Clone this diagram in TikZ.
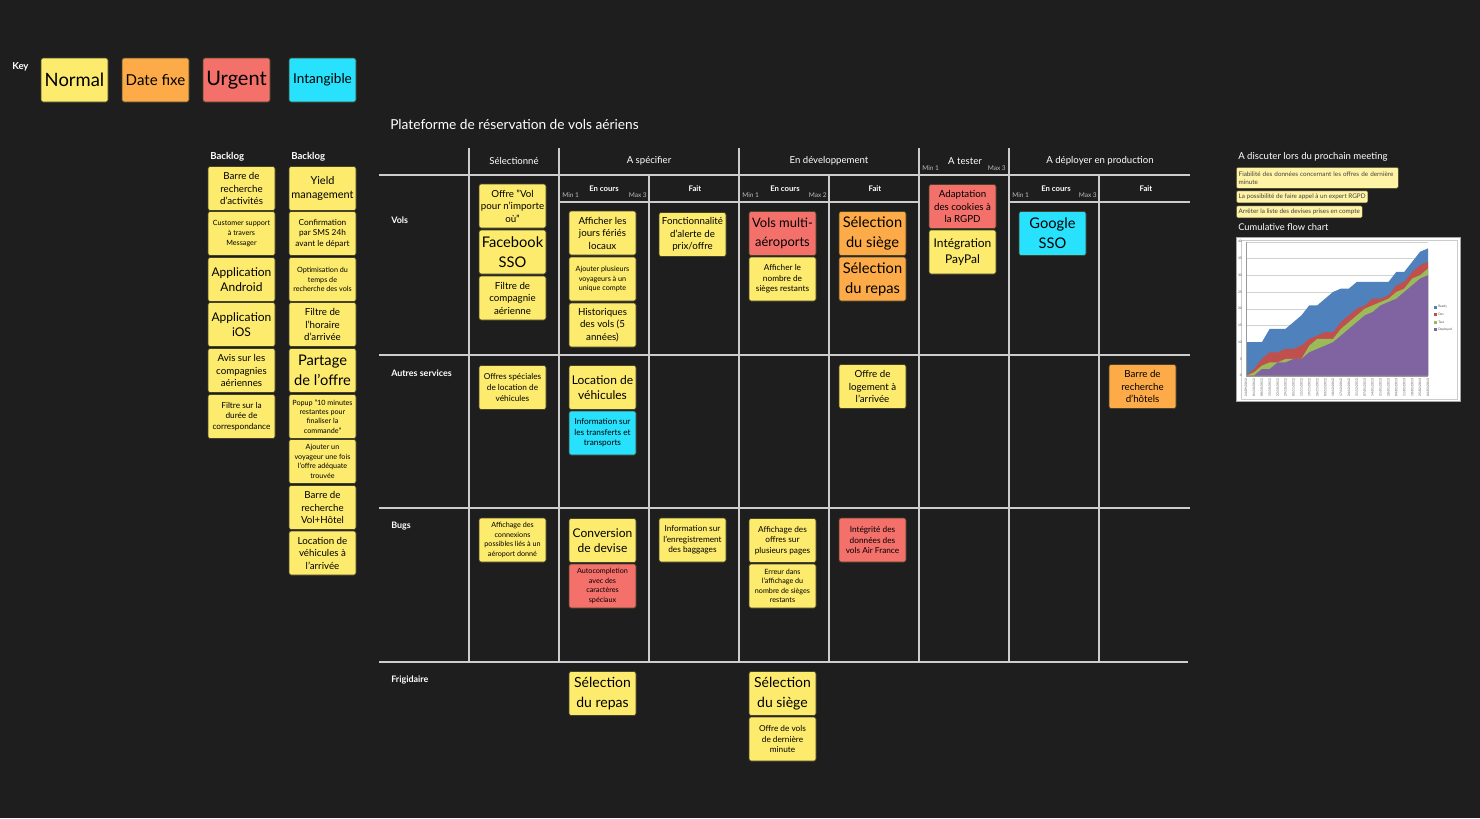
\documentclass[tikz,border=0pt]{standalone}
\usepackage{fontspec}
\setmainfont{Lato}
\definecolor{bg}{RGB}{30,30,30}
\definecolor{cyellow}{RGB}{253,235,110}
\definecolor{corange}{RGB}{253,170,72}
\definecolor{cred}{RGB}{244,112,107}
\definecolor{ccyan}{RGB}{39,225,253}
\definecolor{cnote}{RGB}{255,243,165}
\definecolor{cardline}{RGB}{70,66,40}
\definecolor{gridc}{RGB}{205,205,205}
\definecolor{minc}{RGB}{190,190,190}
\definecolor{cblue}{RGB}{79,129,189}
\definecolor{cdev}{RGB}{192,80,77}
\definecolor{ctest}{RGB}{155,187,89}
\definecolor{cdep}{RGB}{128,100,162}
\begin{document}
\begin{tikzpicture}[x=0.75pt,y=-0.75pt,
  card/.style={draw=cardline, line width=0.5pt, rounded corners=1.6pt, minimum width=50.25pt, minimum height=33pt, inner sep=0.5pt, align=center, text=black},
  ny/.style={card, fill=cyellow}, no/.style={card, fill=corange}, nr/.style={card, fill=cred}, nc/.style={card, fill=ccyan},
  fq/.style={font=\fontsize{5.4}{7.1}\selectfont},
  fa/.style={font=\fontsize{5.4}{7.2}\selectfont},
  fb/.style={font=\fontsize{6.2}{8}\selectfont},
  fc/.style={font=\fontsize{7.3}{9.4}\selectfont},
  fd/.style={font=\fontsize{8.2}{10.4}\selectfont},
  fe/.style={font=\fontsize{9}{11.5}\selectfont},
  ff/.style={font=\fontsize{11}{15}\selectfont},
  gridline/.style={draw=gridc, line width=1.1pt},
  whitetext/.style={text=white, inner sep=0pt},
  colhead/.style={whitetext, font=\fontsize{7.2}{8.5}\selectfont},
  subhead/.style={whitetext, font=\bfseries\fontsize{5.8}{7}\selectfont},
  minmax/.style={text=minc, inner sep=0pt, font=\fontsize{4.9}{6}\selectfont},
  rowlabel/.style={whitetext, anchor=west, font=\bfseries\fontsize{6.7}{8}\selectfont},
  note/.style={draw=cardline, line width=0.4pt, fill=cnote, rounded corners=1pt, anchor=north west, align=left, inner xsep=1.8pt, inner ysep=1.5pt, text=black!75, font=\fontsize{4.75}{6}\selectfont},
  tinylab/.style={inner sep=0pt, text=black!70, font=\fontsize{2.4}{3}\selectfont}
]
\useasboundingbox (0,0) rectangle (1480,818);
\fill[bg] (0,0) rectangle (1480,818);

% ---------- Key ----------
\node[whitetext, anchor=west, font=\bfseries\fontsize{7.2}{8}\selectfont] (keylab) at (12,67) {Key};
\node[ny, font=\fontsize{13.8}{15}\selectfont] (knormal) at (74.5,80) {Normal};
\node[no, font=\fontsize{11.3}{13}\selectfont] (kdate) at (155.5,80) {Date fixe};
\node[nr, font=\fontsize{15}{17}\selectfont] (kurgent) at (236.5,80) {Urgent};
\node[nc, font=\fontsize{10.2}{12}\selectfont] (kintang) at (322.5,80) {Intangible};

% ---------- Title ----------
\node[whitetext, anchor=west, font=\fontsize{10.3}{12}\selectfont] (title) at (390,124) {Plateforme de réservation de vols aériens};

% ---------- Backlogs ----------
\node[whitetext, anchor=west, font=\bfseries\fontsize{7.2}{8}\selectfont] (bl1) at (210,157) {Backlog};
\node[whitetext, anchor=west, font=\bfseries\fontsize{7.2}{8}\selectfont] (bl2) at (291,157) {Backlog};

\node[ny, fc] (b1a) at (241.5,188.5) {Barre de\\recherche\\d'activités};
\node[ny, fa] (b1b) at (241.5,233.5) {Customer support\\à travers\\Messager};
\node[ny, fe] (b1c) at (241.5,279.5) {Application\\Android};
\node[ny, fe] (b1d) at (241.5,324.5) {Application\\iOS};
\node[ny, fc] (b1e) at (241.5,370.5) {Avis sur les\\compagnies\\aériennes};
\node[ny, fb] (b1f) at (241.5,416.5) {Filtre sur la\\durée de\\correspondance};

\node[ny, fd] (b2a) at (322.5,188.5) {Yield\\management};
\node[ny, fb] (b2b) at (322.5,233.5) {Confirmation\\par SMS 24h\\avant le départ};
\node[ny, fa] (b2c) at (322.5,279.5) {Optimisation du\\temps de\\recherche des vols};
\node[ny, fc] (b2d) at (322.5,324.5) {Filtre de\\l'horaire\\d'arrivée};
\node[ny, ff] (b2e) at (322.5,370.5) {Partage\\de l'offre};
\node[ny, fq] (b2f) at (322.5,416.5) {Popup "10 minutes\\restantes pour\\finaliser la\\commande"};
\node[ny, fq] (b2g) at (322.5,461.5) {Ajouter un\\voyageur une fois\\l'offre adéquate\\trouvée};
\node[ny, fc] (b2h) at (322.5,507.5) {Barre de\\recherche\\Vol+Hôtel};
\node[ny, fc] (b2i) at (322.5,553) {Location de\\véhicules à\\l'arrivée};

% ---------- Board grid ----------
\path[gridline] (469,148) -- (469,662);
\path[gridline] (559,148) -- (559,662);
\path[gridline] (649,175) -- (649,662);
\path[gridline] (739,148) -- (739,662);
\path[gridline] (829,175) -- (829,662);
\path[gridline] (919,148) -- (919,662);
\path[gridline] (1009,148) -- (1009,662);
\path[gridline] (1099,175) -- (1099,662);
\path[gridline] (379,175) -- (1190,175);
\path[gridline] (559,202) -- (919,202);
\path[gridline] (1009,202) -- (1190,202);
\path[gridline] (379,355) -- (1190,355);
\path[gridline] (379,508) -- (1190,508);
\path[gridline] (379,662) -- (1188,662);

% headers
\node[colhead] (hsel) at (514,161) {Sélectionné};
\node[colhead] (hspec) at (649,161) {A spécifier};
\node[colhead] (hdev) at (829,161) {En développement};
\node[colhead] (htest) at (965,161) {A tester};
\node[colhead] (hdep) at (1100,161) {A déployer en production};
\node[minmax, anchor=west] (tmin) at (922,168) {Min 1};
\node[minmax, anchor=east] (tmax) at (1006,168) {Max 3};

\node[subhead] (s1) at (604,189) {En cours};
\node[subhead] (s2) at (695,189) {Fait};
\node[subhead] (s3) at (785,189) {En cours};
\node[subhead] (s4) at (875,189) {Fait};
\node[subhead] (s5) at (1056,189) {En cours};
\node[subhead] (s6) at (1146,189) {Fait};
\node[minmax, anchor=west] (m1a) at (562,195) {Min 1};
\node[minmax, anchor=east] (m1b) at (647,195) {Max 3};
\node[minmax, anchor=west] (m2a) at (742,195) {Min 1};
\node[minmax, anchor=east] (m2b) at (827,195) {Max 2};
\node[minmax, anchor=west] (m3a) at (1012,195) {Min 1};
\node[minmax, anchor=east] (m3b) at (1097,195) {Max 3};

% row labels
\node[rowlabel] (rvols) at (391,220) {Vols};
\node[rowlabel] (rautres) at (391,373) {Autres services};
\node[rowlabel] (rbugs) at (391,526) {Bugs};
\node[rowlabel] (rfrig) at (391,680) {Frigidaire};

% ---------- Vols row ----------
\node[ny, fc] (v1) at (512.5,206) {Offre "Vol\\pour n'importe\\où"};
\node[ny, ff] (v2) at (512.5,252) {Facebook\\SSO};
\node[ny, fc] (v3) at (512.5,298) {Filtre de\\compagnie\\aérienne};
\node[ny, fc] (v4) at (602.5,233) {Afficher les\\jours fériés\\locaux};
\node[ny, fa] (v5) at (602.5,279) {Ajouter plusieurs\\voyageurs à un\\unique compte};
\node[ny, fc] (v6) at (602.5,325) {Historiques\\des vols (5\\années)};
\node[ny, fc] (v7) at (692.5,234.5) {Fonctionnalité\\d'alerte de\\prix/offre};
\node[nr, font=\fontsize{9.7}{14}\selectfont] (v8) at (782.5,233.5) {Vols multi-\\aéroports};
\node[ny, fb] (v9) at (782.5,279) {Afficher le\\nombre de\\sièges restants};
\node[no, ff] (v10) at (872.5,233.5) {Sélection\\du siège};
\node[no, ff] (v11) at (872.5,279) {Sélection\\du repas};
\node[nr, fc] (v12) at (962.5,206.5) {Adaptation\\des cookies à\\la RGPD};
\node[ny, fe] (v13) at (962.5,252) {Intégration\\PayPal};
\node[nc, ff] (v14) at (1052.5,233.5) {Google\\SSO};

% ---------- Autres services row ----------
\node[ny, fb] (a1) at (512.5,387.5) {Offres spéciales\\de location de\\véhicules};
\node[ny, fe] (a2) at (602.5,387.5) {Location de\\véhicules};
\node[nc, fb] (a3) at (602.5,433) {Information sur\\les transferts et\\transports};
\node[ny, fc] (a4) at (872.5,386.5) {Offre de\\logement à\\l'arrivée};
\node[no, fc] (a5) at (1142.5,386.5) {Barre de\\recherche\\d'hôtels};

% ---------- Bugs row ----------
\node[ny, fq] (g1) at (512.5,540) {Affichage des\\connexions\\possibles liés à un\\aéroport donné};
\node[ny, fe] (g2) at (602.5,540.5) {Conversion\\de devise};
\node[nr, fq] (g3) at (602.5,586) {Autocompletion\\avec des\\caractères\\spéciaux};
\node[ny, fb] (g4) at (692.5,540) {Information sur\\l'enregistrement\\des baggages};
\node[ny, fb] (g5) at (782.5,540.5) {Affichage des\\offres sur\\plusieurs pages};
\node[ny, fq] (g6) at (782.5,586) {Erreur dans\\l'affichage du\\nombre de sièges\\restants};
\node[nr, fb] (g7) at (872.5,540) {Intégrité des\\données des\\vols Air France};

% ---------- Frigidaire row ----------
\node[ny, font=\fontsize{10.5}{15}\selectfont] (f1) at (602.5,693.5) {Sélection\\du repas};
\node[ny, font=\fontsize{10.5}{15}\selectfont] (f2) at (782.5,693.5) {Sélection\\du siège};
\node[ny, fb] (f3) at (782.5,739) {Offre de vols\\de dernière\\minute};

% ---------- Right side ----------
\node[whitetext, anchor=west, font=\fontsize{7.2}{8}\selectfont] (disc) at (1238,157) {A discuter lors du prochain meeting};
\node[note, text width=118pt, minimum height=15.75pt] (n1) at (1236,167) {Fiabilité des données concernant les offres de dernière\\minute};
\node[note, minimum height=9pt] (n2) at (1236,190.5) {La possibilité de faire appel à un expert RGPD};
\node[note, minimum height=9pt] (n3) at (1236,205.5) {Arrêter la liste des devises prises en compte};
\node[whitetext, anchor=west, font=\fontsize{7}{8}\selectfont] (cfc) at (1238,227) {Cumulative flow chart};

% chart
\fill[white] (1236,237) rectangle (1461,402);
\draw[black!35, line width=0.8pt] (1236.5,237.5) rectangle (1460.5,401.5);
\draw[black!20, line width=0.4pt] (1241,240) rectangle (1457,399);
\coordinate (corig) at (1246,375.7);
\begin{scope}[shift={(corig)}, x=5.935pt, y=2.5125pt]
  \foreach \v in {5,10,...,40} { \draw[black!18, line width=0.3pt] (0,\v) -- (23,\v); }
  \fill[cblue] (0,0) -- plot coordinates {(0,10) (1,10) (2,10) (3,14) (4,14) (5,14) (6,16) (7,18) (8,21) (9,21) (10,23) (11,25) (12,26) (13,26) (14,28) (15,28) (16,28) (17,28) (18,28) (19,31) (20,31) (21,34) (22,37) (23,38)} -- (23,0) -- cycle;
  \fill[cdev] (0,0) -- plot coordinates {(0,0) (1,2) (2,5) (3,7) (4,7) (5,8) (6,8) (7,9) (8,11) (9,12) (10,13) (11,13) (12,16) (13,18) (14,20) (15,21) (16,23) (17,23) (18,24) (19,27) (20,28) (21,31) (22,33) (23,34)} -- (23,0) -- cycle;
  \fill[ctest] (0,0) -- plot coordinates {(0,0) (1,1) (2,3) (3,4) (4,4) (5,5) (6,5) (7,5) (8,9) (9,11) (10,11) (11,11) (12,14) (13,16) (14,18) (15,20) (16,21) (17,22) (18,23) (19,25) (20,26) (21,29) (22,30) (23,32)} -- (23,0) -- cycle;
  \fill[cdep] (0,0) -- plot coordinates {(0,0) (1,0) (2,2) (3,2) (4,4) (5,4) (6,5) (7,5) (8,7) (9,8) (10,9) (11,10) (12,12) (13,14) (14,16) (15,18) (16,19) (17,21) (18,22) (19,23) (20,25) (21,27) (22,29) (23,30)} -- (23,0) -- cycle;
  \draw[black!40, line width=0.3pt] (0,0) -- (0,40);
  \draw[black!40, line width=0.3pt] (0,0) -- (23,0);
  \foreach \v in {0,5,...,40} { \node[tinylab, anchor=east] at (-0.5,\v) {\v}; }
  \foreach \d [count=\i from 0] in {24/09/2012,01/10/2012,08/10/2012,15/10/2012,22/10/2012,29/10/2012,05/11/2012,12/11/2012,19/11/2012,26/11/2012,03/12/2012,10/12/2012,17/12/2012,24/12/2012,31/12/2012,07/01/2013,14/01/2013,21/01/2013,28/01/2013,04/02/2013,11/02/2013,18/02/2013,25/02/2013,04/03/2013} {
    \node[tinylab, anchor=east, rotate=90] at (\i,-0.8) {\d};
  }
\end{scope}
\fill[cblue] (1433.5,305.5) rectangle (1436.5,308.5);
\fill[cdev] (1433.5,313) rectangle (1436.5,316);
\fill[ctest] (1433.5,320.5) rectangle (1436.5,323.5);
\fill[cdep] (1433.5,328) rectangle (1436.5,331);
\node[tinylab, anchor=west] (lg1) at (1438,307) {Ready};
\node[tinylab, anchor=west] (lg2) at (1438,314.5) {Dev};
\node[tinylab, anchor=west] (lg3) at (1438,322) {Test};
\node[tinylab, anchor=west] (lg4) at (1438,329.5) {Deployed};
\end{tikzpicture}
\end{document}
